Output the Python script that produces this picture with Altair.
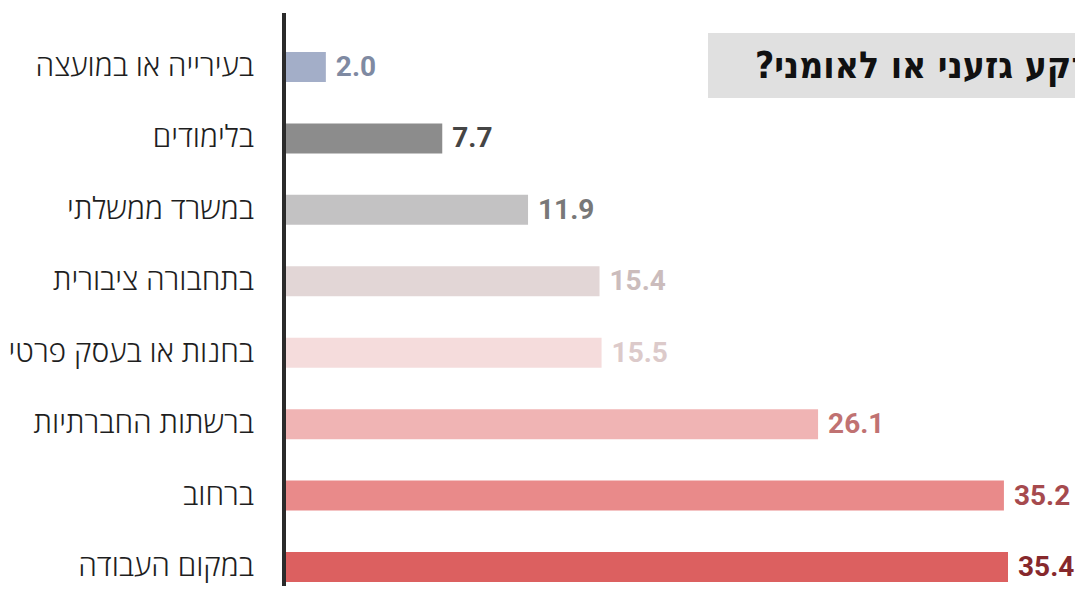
import altair as alt
import pandas as pd

categories = [
    "בעירייה או במועצה",
    "בלימודים",
    "במשרד ממשלתי",
    "בתחבורה ציבורית",
    "בחנות או בעסק פרטי",
    "ברשתות החברתיות",
    "ברחוב",
    "במקום העבודה",
]
values = [2.0, 7.7, 11.9, 15.4, 15.5, 26.1, 35.2, 35.4]
bar_colors = ["#a3aec8", "#8c8c8c", "#c3c2c3", "#e2d6d6", "#f5dcdc", "#f0b4b4", "#e98a8a", "#dc6060"]
label_colors = ["#7f8aa2", "#454545", "#787878", "#cbbcbc", "#dccaca", "#c07272", "#a64a4e", "#86282c"]
title_text = "היכן נתקלת ביחס מפלה בשל רקע גזעני או לאומני?\u200f"

df = pd.DataFrame({
    "category": categories,
    "value": values,
    "bar_color": bar_colors,
    "label_color": label_colors,
})

W, H = 790, 573

y_enc = alt.Y(
    "category:N",
    sort=categories,
    axis=None,
    scale=alt.Scale(domain=categories, range=[39, 569], paddingInner=0.58, paddingOuter=0),
)
x_scale = alt.Scale(domain=[0, 38.68], nice=False, zero=True)

base = alt.Chart(df)

bars = base.mark_bar(cornerRadius=0).encode(
    x=alt.X("value:Q", scale=x_scale, axis=None),
    y=y_enc,
    color=alt.Color("bar_color:N", scale=None, legend=None),
)

value_labels = base.mark_text(
    align="left", baseline="middle", dx=10, dy=1, fontSize=28, font="Roboto", fontWeight="bold"
).encode(
    x=alt.X("value:Q", scale=x_scale, axis=None),
    y=y_enc,
    text=alt.Text("value:Q", format=".1f"),
    color=alt.Color("label_color:N", scale=None, legend=None),
)

cat_labels = base.mark_text(
    align="right", baseline="middle", fontSize=30, font="Open Sans", fontWeight=300, color="#1e1e1e"
).encode(
    x=alt.value(-31),
    y=y_enc,
    text="category:N",
)

axis_line = base.mark_rule(color="#2b2b2b", strokeWidth=3).encode(
    x=alt.value(-1), y=alt.value(0), y2=alt.value(H)
)

title_box = alt.Chart(pd.DataFrame({"t": [title_text]})).mark_rect(color="#e0e0e0").encode(
    x=alt.value(423), x2=alt.value(W), y=alt.value(20), y2=alt.value(85)
)
title_label = alt.Chart(pd.DataFrame({"t": [title_text]})).mark_text(
    align="left", baseline="middle", fontSize=37, font="DejaVu Sans Condensed", fontWeight="bold",
    color="#111111", clip=True
).encode(
    x=alt.value(470), y=alt.value(54), text="t:N"
)

chart = alt.layer(bars, value_labels, cat_labels, axis_line, title_box, title_label).properties(
    width=W,
    height=H,
    autosize=alt.AutoSizeParams(type="none"),
    padding={"left": 277, "top": 5, "right": 0, "bottom": 0},
).configure_view(stroke=None)

chart.save("out.html", embed_options={"renderer": "svg", "actions": False})
